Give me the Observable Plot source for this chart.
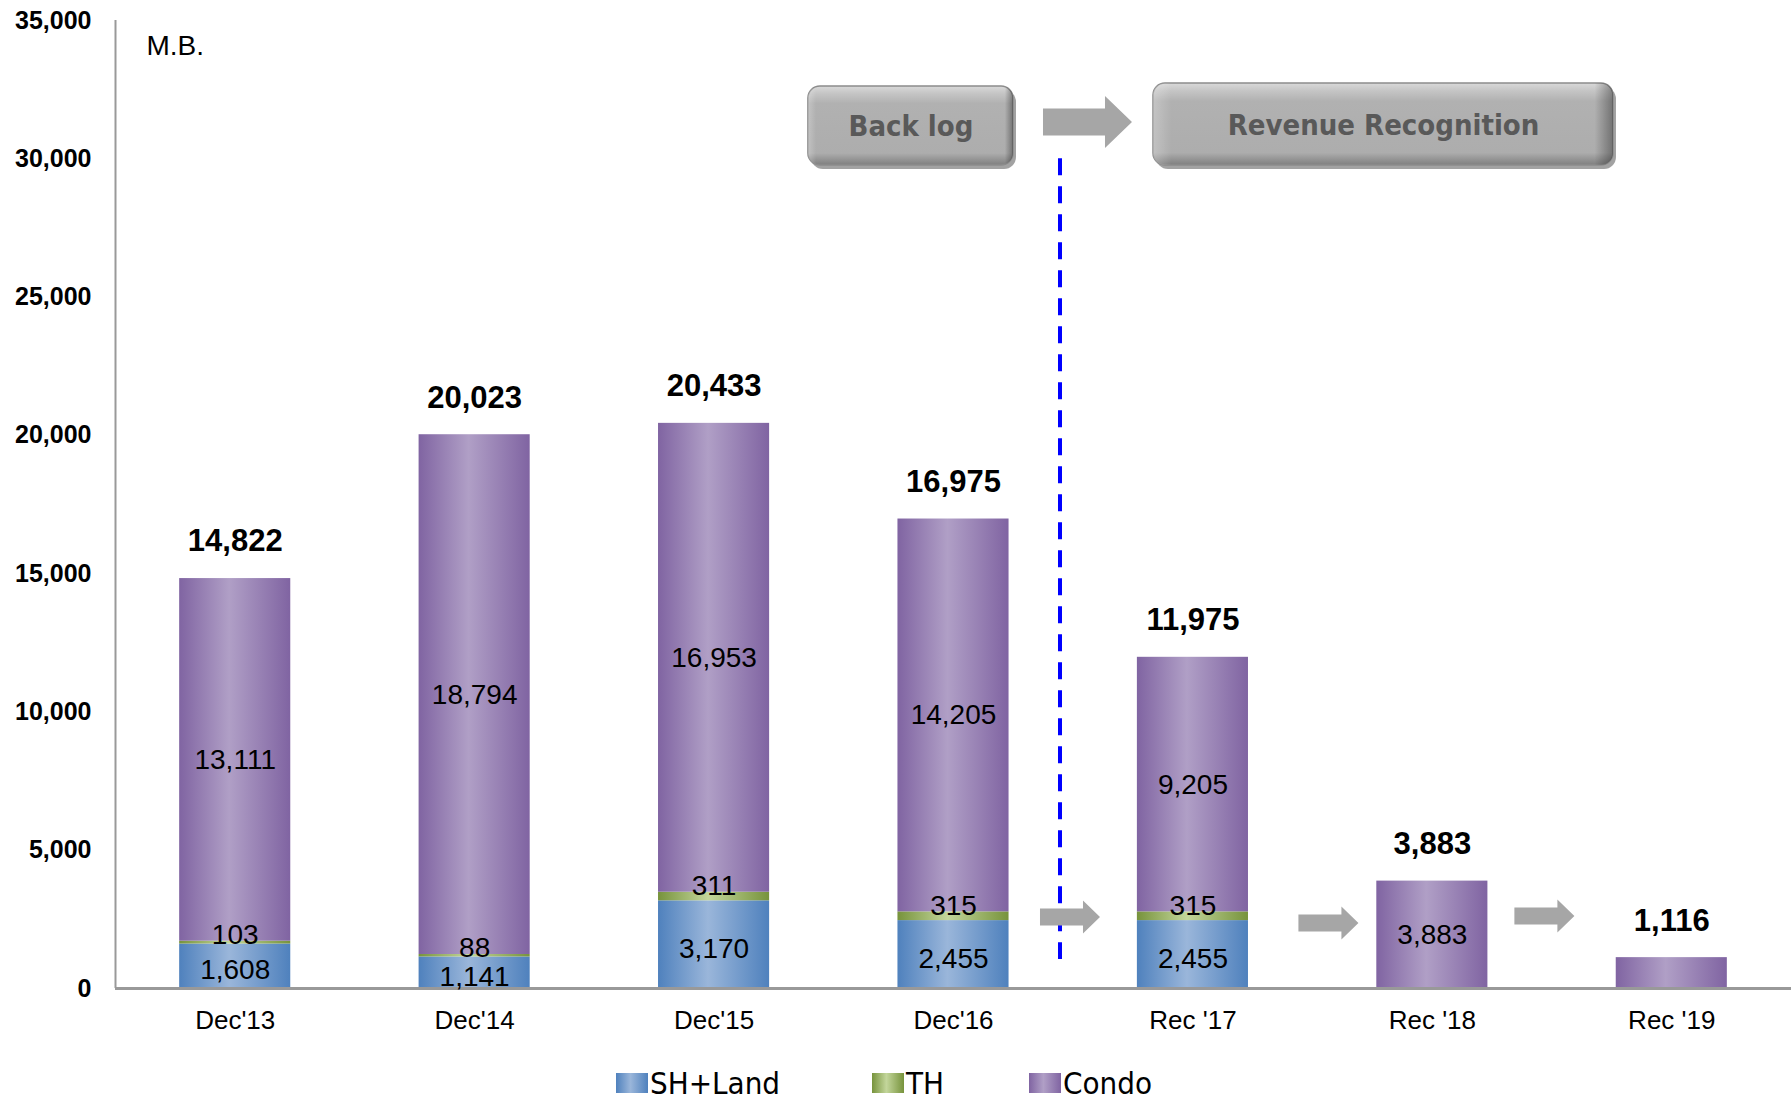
<!DOCTYPE html>
<html><head><meta charset="utf-8">
<script src="https://cdn.jsdelivr.net/npm/d3@7"></script>
<script src="https://cdn.jsdelivr.net/npm/@observablehq/plot@0.6"></script>
<style>
body{margin:0;background:#fff;}
#chart{width:1791px;height:1060px;}
.legend{position:relative;width:1791px;height:39px;font-family:"DejaVu Sans Condensed","DejaVu Sans",sans-serif;font-stretch:condensed;font-size:31px;color:#000;overflow:visible;}
.item{position:absolute;top:0;height:46px;display:flex;align-items:center;white-space:nowrap;}
.sw{width:32px;height:20px;margin-right:2px;}
</style></head><body>
<div id="chart"></div>
<div class="legend" id="legend"></div>
<script>
// ---------- data ----------
const categories = ["Dec'13", "Dec'14", "Dec'15", "Dec'16", "Rec '17", "Rec '18", "Rec '19"];
const shLand = [1608, 1141, 3170, 2455, 2455, 0, 0];
const th = [103, 88, 311, 315, 315, 0, 0];
const condo = [13111, 18794, 16953, 14205, 9205, 3883, 1116];
const totals = [14822, 20023, 20433, 16975, 11975, 3883, 1116];
const condoLabels = [13111, 18794, 16953, 14205, 9205, 3883, null];
const yTicks = [0, 5000, 10000, 15000, 20000, 25000, 30000, 35000];
const seriesNames = ["SH+Land", "TH", "Condo"];
const unitLabel = "M.B.";
const phaseLabels = ["Back log", "Revenue Recognition"];

// ---------- styles / annotation placement ----------
const seriesGrad = [
  {id: "gSH", dark: "#4F81BD", light: "#9AB6DA"},
  {id: "gTH", dark: "#77933C", light: "#C3D69B"},
  {id: "gCO", dark: "#8064A2", light: "#B09FC6"}
];
const HW = 0.232; // half bar width in category units
const buttons = [
  {label: phaseLabels[0], x1: 2.394, x2: 3.2506, y1: 29757, y2: 32614},
  {label: phaseLabels[1], x1: 3.8353, x2: 5.7565, y1: 29757, y2: 32722}
];
const arrows = [
  {x: 3.5617, y: 31312, len: 89, shaft: 27, head: 27, headH: 52},
  {x: 3.4886, y: 2567, len: 60, shaft: 17, head: 17, headH: 33},
  {x: 4.568, y: 2350, len: 60, shaft: 17, head: 17, headH: 33},
  {x: 5.470, y: 2603, len: 60, shaft: 17, head: 17, headH: 33}
];
const divider = {x: 3.4448, y1: 30000, y2: 1050};

// ---------- build tidy table ----------
const seriesValues = [shLand, th, condo];
const segments = [];
categories.forEach((c, i) => {
  let base = 0;
  seriesValues.forEach((vals, s) => {
    const v = vals[i];
    segments.push({cat: c, i, s, series: seriesNames[s], value: v, y1: base, y2: base + v});
    base += v;
  });
});
const totalRows = categories.map((c, i) => ({i, total: totals[i], top: shLand[i] + th[i] + condo[i]}));
const fmt = d3.format(",");
const FONT = "'Liberation Sans', Arial, Helvetica, sans-serif";
const CFONT = "'DejaVu Sans Condensed', 'DejaVu Sans', sans-serif";

const defsMark = () => {
  const d = d3.create("svg:defs");
  for (const g of seriesGrad) {
    const lg = d.append("linearGradient").attr("id", g.id).attr("x1", 0).attr("x2", 1).attr("y1", 0).attr("y2", 0);
    lg.append("stop").attr("offset", "0%").attr("stop-color", g.dark);
    lg.append("stop").attr("offset", "45%").attr("stop-color", g.light);
    lg.append("stop").attr("offset", "100%").attr("stop-color", g.dark);
  }
  const bv = d.append("linearGradient").attr("id", "btnV").attr("x1", 0).attr("x2", 0).attr("y1", 0).attr("y2", 1);
  [["0%", "#d9d9d9"], ["10%", "#c4c4c4"], ["22%", "#b1b1b1"], ["85%", "#adadad"], ["100%", "#7f7f7f"]]
    .forEach(([o, c]) => bv.append("stop").attr("offset", o).attr("stop-color", c));
  const bh = d.append("linearGradient").attr("id", "btnH").attr("x1", 0).attr("x2", 1).attr("y1", 0).attr("y2", 0);
  [["0%", "#ffffff", 0.25], ["4%", "#ffffff", 0], ["96%", "#000000", 0], ["100%", "#000000", 0.35]]
    .forEach(([o, c, op]) => bh.append("stop").attr("offset", o).attr("stop-color", c).attr("stop-opacity", op));
  return d.node();
};

const arrowMark = (index, scales) => {
  const g = d3.create("svg:g");
  for (const a of arrows) {
    const cx = scales.x(a.x), cy = scales.y(a.y);
    const x0 = cx - a.len / 2, x1 = cx + a.len / 2, xh = x1 - a.head;
    g.append("path")
      .attr("d", `M${x0},${cy - a.shaft / 2}H${xh}V${cy - a.headH / 2}L${x1},${cy}L${xh},${cy + a.headH / 2}V${cy + a.shaft / 2}H${x0}Z`)
      .attr("fill", "#A6A6A6");
  }
  return g.node();
};

const marks = [
  defsMark,
  ...seriesGrad.map((g, s) => Plot.rect(segments.filter(d => d.s === s && d.value > 0), {
    x1: d => d.i - HW, x2: d => d.i + HW, y1: "y1", y2: "y2", fill: `url(#${g.id})`
  })),
  Plot.ruleX([-0.5], {y1: 0, y2: 35000, stroke: "#999", strokeWidth: 2}),
  Plot.ruleY([0], {x1: -0.5, x2: 6.5, stroke: "#999", strokeWidth: 3}),
  // y tick labels
  Plot.text(yTicks, {frameAnchor: "left", y: d => d, text: d => fmt(d), dx: -24, textAnchor: "end",
    fontWeight: "bold", fontSize: 25, fontFamily: FONT, fill: "#000"}),
  // category labels
  Plot.text(categories, {frameAnchor: "bottom", lineAnchor: "middle", x: (d, i) => i, text: d => d, dy: 32,
    fontSize: 26, fontFamily: FONT, fill: "#000"}),
  Plot.text([unitLabel], {frameAnchor: "top-left", lineAnchor: "middle", text: d => d, dx: 31, dy: 26, textAnchor: "start",
    fontSize: 28, fontFamily: FONT, fill: "#000"}),
  // inner labels
  Plot.text(segments.filter(d => d.s === 0 && d.value > 0), {x: "i", y: d => (d.y1 + d.y2) / 2, text: d => fmt(d.value),
    dy: 4, fontSize: 28, fontFamily: FONT, fill: "#000"}),
  Plot.text(segments.filter(d => d.s === 1 && d.value > 0), {x: "i", y: "y2", text: d => fmt(d.value),
    dy: -6, fontSize: 28, fontFamily: FONT, fill: "#000"}),
  Plot.text(segments.filter(d => d.s === 2 && condoLabels[d.i] != null), {x: "i", y: d => (d.y1 + d.y2) / 2,
    text: d => fmt(condoLabels[d.i]), fontSize: 28, fontFamily: FONT, fill: "#000"}),
  // totals
  Plot.text(totalRows, {x: "i", y: "top", text: d => fmt(d.total), dy: -37, fontSize: 31, fontWeight: "bold",
    fontFamily: FONT, fill: "#000"}),
  // divider
  Plot.ruleX([divider], {x: "x", y1: "y1", y2: "y2", stroke: "#0000FF", strokeWidth: 4, strokeDasharray: "17,11"}),
  // buttons
  Plot.rect(buttons, {x1: "x1", x2: "x2", y1: "y1", y2: "y2", rx: 12, fill: "#555", fillOpacity: 0.55, dx: 3, dy: 4}),
  Plot.rect(buttons, {x1: "x1", x2: "x2", y1: "y1", y2: "y2", rx: 12, fill: "url(#btnV)", stroke: "#8c8c8c", strokeWidth: 1.5}),
  Plot.rect(buttons, {x1: "x1", x2: "x2", y1: "y1", y2: "y2", rx: 12, fill: "url(#btnH)"}),
  Plot.text(buttons, {x: d => (d.x1 + d.x2) / 2, y: d => (d.y1 + d.y2) / 2, text: "label", fontSize: 29,
    fontWeight: "bold", fontFamily: CFONT, fill: "#595959", dy: 1}),
  arrowMark
];

const chart = Plot.plot({
  width: 1791, height: 1060,
  marginLeft: 115, marginRight: 0, marginTop: 20, marginBottom: 72,
  x: {type: "linear", domain: [-0.5, 6.5], axis: null},
  y: {domain: [0, 35000], axis: null},
  style: {fontFamily: FONT, background: "#fff", overflow: "visible"},
  marks
});
document.getElementById("chart").appendChild(chart);

// legend (HTML below the svg)
const legendPos = [616, 872, 1029];
const lg = d3.select("#legend");
seriesNames.forEach((n, s) => {
  const g = seriesGrad[s];
  const it = lg.append("div").attr("class", "item").style("left", legendPos[s] + "px");
  it.append("div").attr("class", "sw").style("background", `linear-gradient(to right, ${g.dark}, ${g.light} 45%, ${g.dark})`);
  it.append("span").text(n);
});
</script>
</body></html>
